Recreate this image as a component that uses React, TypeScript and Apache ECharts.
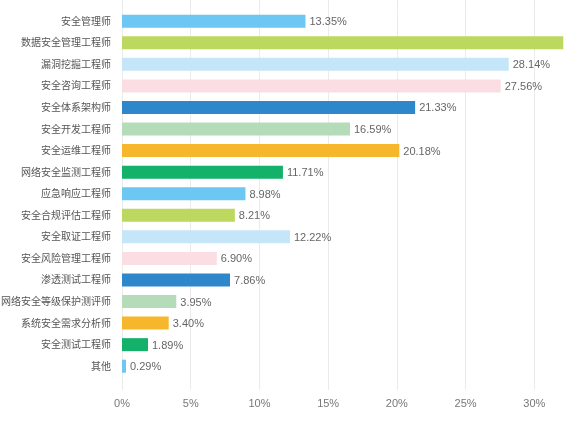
import React, { useEffect, useRef } from 'react';
import * as echarts from 'echarts';

const categories = [
  '安全管理师',
  '数据安全管理工程师',
  '漏洞挖掘工程师',
  '安全咨询工程师',
  '安全体系架构师',
  '安全开发工程师',
  '安全运维工程师',
  '网络安全监测工程师',
  '应急响应工程师',
  '安全合规评估工程师',
  '安全取证工程师',
  '安全风险管理工程师',
  '渗透测试工程师',
  '网络安全等级保护测评师',
  '系统安全需求分析师',
  '安全测试工程师',
  '其他',
];

const values = [
  13.35, 32.11, 28.14, 27.56, 21.33, 16.59, 20.18, 11.71, 8.98, 8.21, 12.22, 6.9, 7.86, 3.95, 3.4, 1.89,
  0.29,
];

const palette = ['#6cc7f2', '#bdd85e', '#c4e6f8', '#fbdde4', '#2d87ca', '#b5dcb9', '#f6b72d', '#14b16a'];

const gridColor = '#ebebeb';

const App = () => {
  const chartRef = useRef(null);

  useEffect(() => {
    const myChart = echarts.init(chartRef.current, null, { renderer: 'svg' });

    myChart.setOption({
      animation: false,
      textStyle: { fontFamily: '"Liberation Sans", "Noto Sans CJK SC", sans-serif' },
      grid: { left: 122, top: 10.4, width: 481, height: 366.6, containLabel: false, outerBoundsMode: 'none' },
      xAxis: [
        {
          type: 'value',
          min: 0,
          max: 35,
          interval: 5,
          axisLine: { show: false },
          axisTick: { show: true, length: 13, lineStyle: { color: gridColor } },
          axisLabel: { formatter: '{value}%', color: '#777', fontSize: 11, margin: 20, showMaxLabel: false },
          splitLine: { lineStyle: { color: gridColor } },
        },
        {
          // only used to carry the grid lines up to the top edge
          type: 'value',
          position: 'top',
          min: 0,
          max: 35,
          interval: 5,
          axisLine: { show: false },
          axisTick: { show: true, length: 11, lineStyle: { color: gridColor } },
          axisLabel: { show: false },
          splitLine: { show: false },
        },
      ],
      yAxis: {
        type: 'category',
        inverse: true,
        data: categories,
        axisLine: { show: false },
        axisTick: { show: false },
        axisLabel: { color: '#555', fontSize: 10, margin: 11 },
      },
      series: [
        {
          type: 'bar',
          barWidth: 13,
          data: values.map((v, i) => ({
            value: v,
            itemStyle: { color: palette[i % palette.length] },
            // the label of the longest bar falls past the right edge in the original
            label: v > 30 ? { show: false } : undefined,
          })),
          label: {
            show: true,
            position: 'right',
            distance: 4,
            color: '#666',
            fontSize: 11,
            formatter: (p: any) => p.value.toFixed(2) + '%',
          },
        },
      ],
    });

    return () => {
      myChart.dispose();
    };
  }, []);

  return (
    <div
      ref={chartRef}
      style={{ position: 'fixed', left: 0, top: 0, width: '567px', height: '424px', overflow: 'hidden' }}
    />
  );
};

export default App;
